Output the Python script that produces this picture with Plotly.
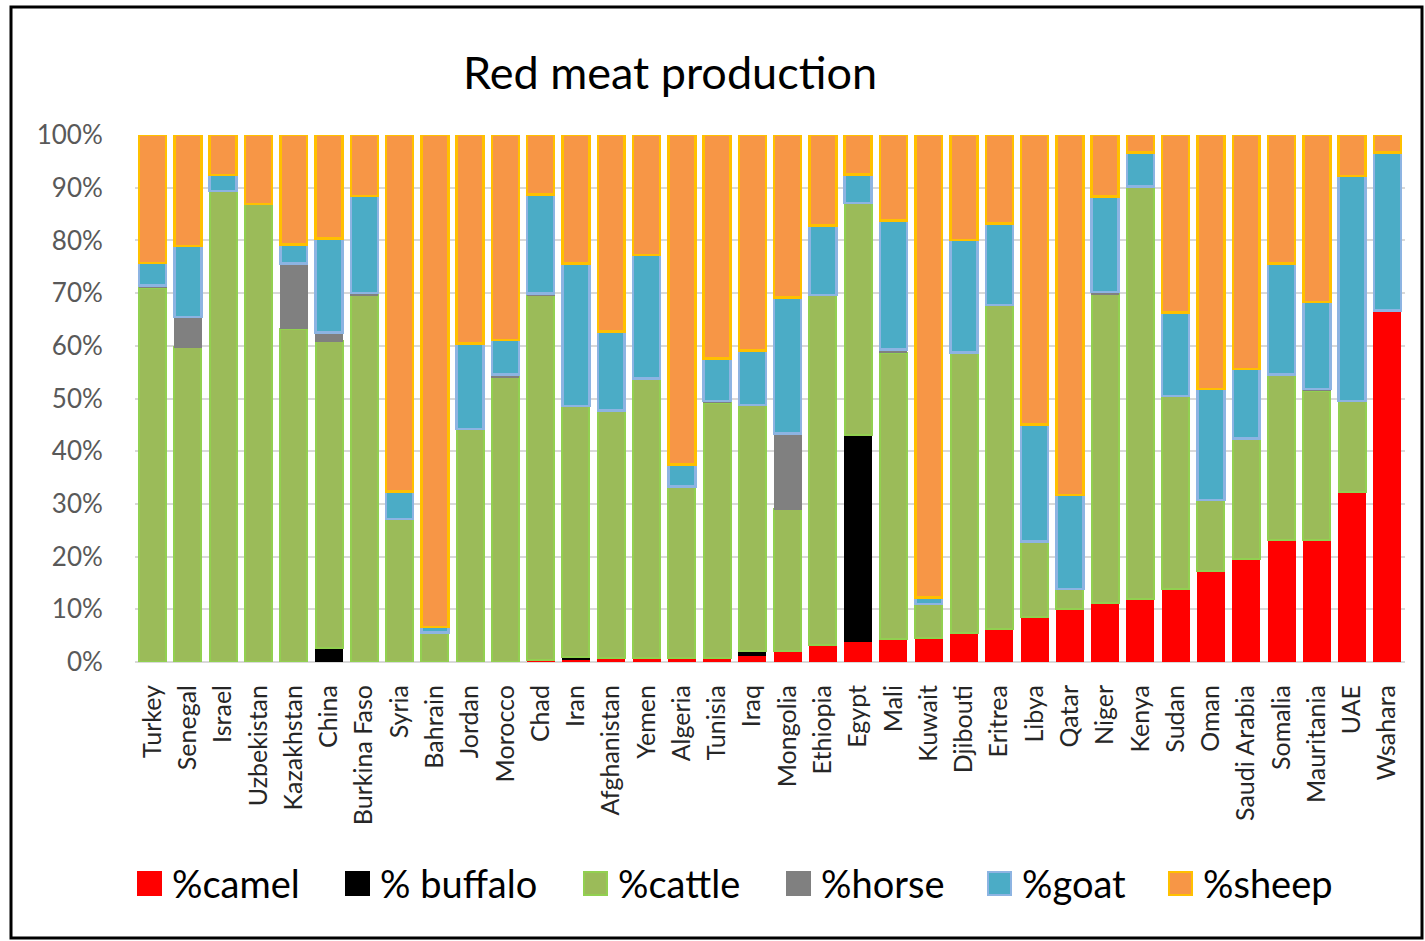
import plotly.graph_objects as go

# Share of red meat production by species (%), per country
countries = ["Turkey", "Senegal", "Israel", "Uzbekistan", "Kazakhstan", "China",
             "Burkina Faso", "Syria", "Bahrain", "Jordan", "Morocco", "Chad", "Iran",
             "Afghanistan", "Yemen", "Algeria", "Tunisia", "Iraq", "Mongolia",
             "Ethiopia", "Egypt", "Mali", "Kuwait", "Djibouti", "Eritrea", "Libya",
             "Qatar", "Niger", "Kenya", "Sudan", "Oman", "Saudi Arabia", "Somalia",
             "Mauritania", "UAE", "Wsahara"]

camel = [0, 0, 0, 0, 0, 0, 0, 0, 0, 0, 0, 0.3, 0.4, 0.8, 0.8, 0.8, 0.8, 1.2, 2.1,
         3.3, 3.8, 4.3, 4.6, 5.5, 6.3, 8.6, 10.1, 11.2, 11.9, 13.9, 17.3, 19.5, 23.1,
         23.1, 32.3, 66.7]
buffalo = [0, 0, 0, 0, 0, 2.6, 0, 0, 0, 0, 0, 0, 0.6, 0, 0, 0, 0, 0.9, 0,
           0, 39.2, 0, 0, 0, 0, 0, 0, 0, 0, 0, 0, 0, 0,
           0, 0, 0]
cattle = [71.0, 59.7, 89.4, 86.9, 63.2, 58.3, 69.6, 27.1, 5.6, 44.2, 54.0, 69.3, 47.6,
          46.9, 53.0, 32.5, 48.4, 46.7, 26.9, 66.3, 44.1, 54.4, 6.4, 53.2, 61.4, 14.3,
          3.8, 58.6, 78.3, 36.6, 13.4, 22.9, 31.5, 28.4, 17.2, 0]
horse = [0.4, 5.8, 0, 0, 12.4, 1.6, 0.4, 0, 0, 0, 0.6, 0.3, 0, 0, 0, 0, 0.3, 0, 14.4,
         0, 0, 0.6, 0, 0, 0, 0, 0, 0.4, 0, 0, 0, 0, 0, 0.3, 0, 0]
goat = [4.3, 13.4, 3.0, 0, 3.6, 17.9, 18.4, 5.3, 1.0, 16.2, 6.5, 18.8, 27.0, 15.0, 23.4,
        4.2, 8.1, 10.3, 25.8, 13.2, 5.4, 24.5, 1.2, 21.4, 15.5, 22.2, 17.8, 18.1, 6.5,
        15.8, 21.1, 13.2, 21.0, 16.5, 42.7, 30.0]
sheep = [24.3, 21.1, 7.6, 13.1, 20.8, 19.6, 11.6, 67.6, 93.4, 39.6, 38.9, 11.3, 24.4,
         37.3, 22.8, 62.5, 42.4, 40.9, 30.8, 17.2, 7.5, 16.2, 87.8, 19.9, 16.8, 54.9,
         68.3, 11.7, 3.3, 33.7, 48.2, 44.4, 24.4, 31.7, 7.8, 3.3]

y_ticks = [0, 10, 20, 30, 40, 50, 60, 70, 80, 90, 100]
y_tick_labels = ["0%", "10%", "20%", "30%", "40%", "50%", "60%", "70%", "80%",
                 "90%", "100%"]

series = [
    ("%camel", camel, "#FF0000", "#FF0000", 1),
    ("% buffalo", buffalo, "#000000", "#000000", 1),
    ("%cattle", cattle, "#9BBB59", "#92D050", 2),
    ("%horse", horse, "#808080", "#808080", 1),
    ("%goat", goat, "#4BACC6", "#8DB4E2", 2.5),
    ("%sheep", sheep, "#F79646", "#FFC000", 2.5),
]

FONT = "Lato, Calibri, sans-serif"
W, H = 1425, 941
L, R, T, B = 135, 20, 135, 279
PW, PH = W - L - R, H - T - B

fig = go.Figure()
for name, vals, fill, edge, lw in series:
    fig.add_trace(go.Bar(
        x=countries, y=[v if v else None for v in vals], name=name,
        marker=dict(color=fill, line=dict(color=edge, width=lw)),
        showlegend=False,
    ))


def px_x(p):
    return (p - L) / PW


def px_y(p):
    return (H - B - p) / PH


shapes = []
annotations = []

# legend row drawn beneath the category labels
legend_pos = [137, 345, 583, 786, 987, 1168]
for (name, _, fill, edge, lw), lx in zip(series, legend_pos):
    shapes.append(dict(type="rect", xref="paper", yref="paper",
                       x0=px_x(lx + 1), x1=px_x(lx + 24), y0=px_y(895), y1=px_y(872),
                       fillcolor=fill, line=dict(color=edge, width=2)))
    annotations.append(dict(text=name, xref="paper", yref="paper",
                            x=px_x(lx + 33), y=px_y(883), xanchor="left",
                            yanchor="middle", showarrow=False,
                            font=dict(family=FONT, size=38, color="#000000")))

# chart frame
shapes.append(dict(type="rect", xref="paper", yref="paper",
                   x0=px_x(11), x1=px_x(1422), y0=px_y(938), y1=px_y(7),
                   line=dict(color="#000000", width=3), fillcolor="rgba(0,0,0,0)",
                   layer="below"))

fig.update_layout(
    width=W, height=H,
    margin=dict(l=L, r=R, t=T, b=B, autoexpand=False),
    paper_bgcolor="white", plot_bgcolor="white",
    barmode="stack", bargap=0.235,
    title=dict(text="Red meat production", x=670 / W, xanchor="center",
               y=1 - 73 / H, yanchor="middle",
               font=dict(family=FONT, size=45, color="#000000")),
    xaxis=dict(tickangle=-90, tickfont=dict(family=FONT, size=25, color="#262626"),
               ticks="outside", ticklen=12, tickcolor="rgba(0,0,0,0)",
               showgrid=False, showline=False, zeroline=False),
    yaxis=dict(range=[0, 100], tickmode="array", tickvals=y_ticks,
               ticktext=y_tick_labels,
               tickfont=dict(family=FONT, size=26, color="#595959"),
               showgrid=True, gridcolor="#D9D9D9", gridwidth=2,
               zeroline=True, zerolinecolor="#D9D9D9", zerolinewidth=2,
               ticks="outside", ticklen=26, tickcolor="rgba(0,0,0,0)",
               showline=False),
    shapes=shapes, annotations=annotations,
)

fig.write_html("out.html")
